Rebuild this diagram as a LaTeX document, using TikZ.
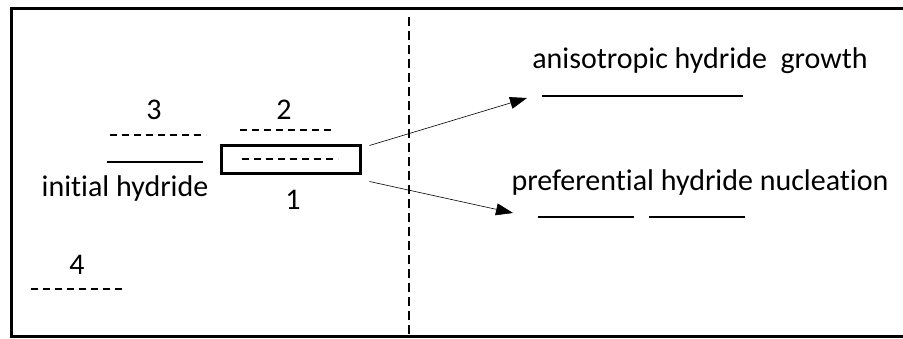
\documentclass[tikz,border=0pt]{standalone}
\usepackage{fontspec}
\setmainfont[Ligatures=NoCommon]{Carlito}
\usetikzlibrary{arrows.meta,positioning}

\tikzset{
  hline/.style={line width=2pt},
  dline/.style={line width=1.4pt, dash pattern=on 7pt off 5pt},
  lbl/.style={font=\fontsize{30}{36}\selectfont, inner sep=0pt},
  arr/.style={line width=0.6pt, -{Triangle[length=17pt,width=12pt]}}
}

\begin{document}
\begin{tikzpicture}[x=1pt,y=-1pt]
    \useasboundingbox (0,0) rectangle (903,339);
    % frame and divider
    \draw[line width=3pt] (906,9) -- (11,9) -- (11,337) -- (906,337);
    \draw[line width=2pt, dash pattern=on 9pt off 5pt] (409,17) -- (409,339);

    % left part: hydride levels
    \node[lbl] (lab3) at (154,110) {3};
    \draw[dline] (110,135) -- (206,135);
    \draw[hline] (107,162) -- (203,162);
    \node[lbl] (initial) at (125,189) {initial hydride};

    \node[lbl] (lab2) at (284,110) {2};
    \draw[dline] (240,130) -- (335,130);
    \node[draw, line width=3pt, minimum width=139pt, minimum height=28pt, inner sep=0pt] (inclusion) at (290.5,160) {};
    \draw[dline] (242,159) -- (338,159);
    \node[lbl] (lab1) at (293,200) {1};

    \node[lbl] (lab4) at (77,265) {4};
    \draw[dline] (31,289) -- (126,289);

    % right part: results
    \node[lbl] (growth) at (700,61) {anisotropic hydride\ \ growth};
    \coordinate (g1) at (542,96);
    \coordinate (g2) at (743,96);
    \draw[hline] (g1) -- (g2);

    \node[lbl] (nucleation) at (700,183) {preferential hydride nucleation};
    \coordinate (n1) at (538,217);
    \coordinate (n2) at (634,217);
    \coordinate (n3) at (649,217);
    \coordinate (n4) at (745,217);
    \draw[hline] (n1) -- (n2);
    \draw[hline] (n3) -- (n4);

    % arrows
    \draw[arr] ([xshift=8pt,yshift=-1pt]inclusion.north east) -- ([xshift=-15pt,yshift=-2pt]g1);
    \draw[arr] ([xshift=8pt,yshift=-6pt]inclusion.south east) -- ([xshift=-25pt,yshift=4pt]n1);
\end{tikzpicture}
\end{document}
